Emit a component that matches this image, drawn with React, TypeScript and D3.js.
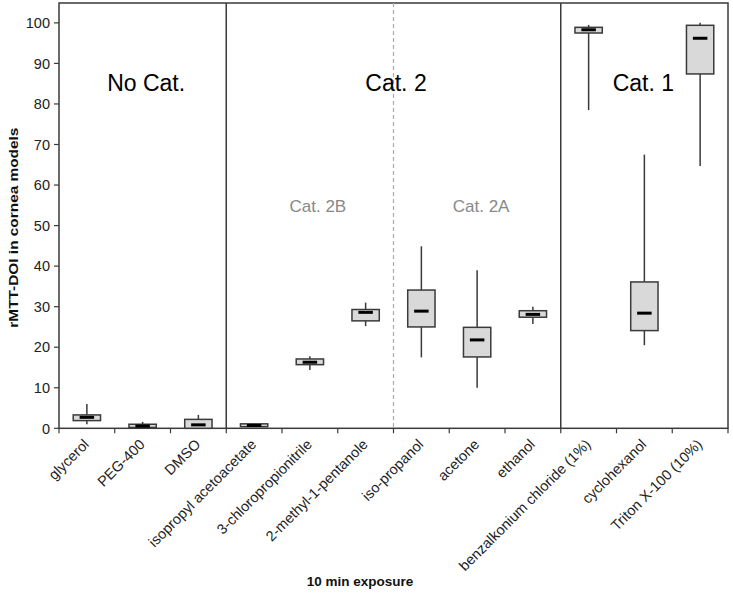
import React from "react";
import * as d3 from "d3";

const categories = [
  "glycerol", "PEG-400", "DMSO", "isopropyl acetoacetate", "3-chloropropionitrile",
  "2-methyl-1-pentanole", "iso-propanol", "acetone", "ethanol",
  "benzalkonium chloride (1%)", "cyclohexanol", "Triton X-100 (10%)",
];
const whiskerLow = [1.0, 0.0, 0.0, 0.3, 14.4, 25.2, 17.5, 10.0, 25.7, 78.5, 20.5, 64.7];
const q1 = [1.9, 0.2, 0.0, 0.4, 15.7, 26.5, 25.0, 17.6, 27.4, 97.5, 24.1, 87.4];
const medians = [2.7, 0.55, 0.85, 0.7, 16.3, 28.6, 28.9, 21.8, 28.1, 98.3, 28.4, 96.2];
const q3 = [3.3, 1.0, 2.2, 1.1, 17.1, 29.3, 34.1, 24.9, 29.0, 98.9, 36.1, 99.4];
const whiskerHigh = [6.0, 1.6, 3.3, 1.2, 17.8, 31.0, 44.9, 39.0, 30.0, 99.5, 67.5, 100.0];
const yTicks = [0, 10, 20, 30, 40, 50, 60, 70, 80, 90, 100];
const groups = [
  { label: "No Cat.", at: 1.5, shift: 3.5 },
  { label: "Cat. 2", at: 6, shift: 2.5 },
  { label: "Cat. 1", at: 10.5, shift: -1 },
];
const subGroups = [
  { label: "Cat. 2B", at: 4.5, shift: 8 },
  { label: "Cat. 2A", at: 7.5, shift: 4 },
];
const solidDividers = [3, 9];
const dashedDividers = [6];

const W = 733, H = 596;
const left = 59, right = 728, top = 3, bottom = 428.3;
const font = "Liberation Sans, Arial, sans-serif";

export default function App() {
  const x = d3.scaleLinear().domain([0, categories.length]).range([left, right]);
  const y = d3.scaleLinear().domain([0, 104.9]).range([bottom, top]);
  const bw = x(1) - x(0);
  const boxW = bw * 0.49;
  const medW = bw * 0.26;
  const stroke = "#3a3a3a";

  return (
    <svg width={W} height={H} style={{ position: "absolute", left: 0, top: 0, background: "#fff" }}>
      <rect x={left} y={top} width={right - left} height={bottom - top} fill="none" stroke={stroke} strokeWidth={1.5} />
      {solidDividers.map((d) => (
        <line key={"s" + d} x1={x(d)} x2={x(d)} y1={top} y2={bottom} stroke={stroke} strokeWidth={1.5} />
      ))}
      {dashedDividers.map((d) => (
        <line key={"d" + d} x1={x(d)} x2={x(d)} y1={top} y2={bottom} stroke="#aaa" strokeWidth={1.2} strokeDasharray="4,3" />
      ))}
      {yTicks.map((t) => (
        <g key={t}>
          <line x1={left - 5} x2={left} y1={y(t)} y2={y(t)} stroke={stroke} strokeWidth={1.2} />
          <text x={left - 9} y={y(t)} dy="0.36em" textAnchor="end" fontFamily={font} fontSize={14.5} fill="#222">{t}</text>
        </g>
      ))}
      {d3.range(0, categories.length + 1).map((i) => (
        <line key={i} x1={x(i)} x2={x(i)} y1={bottom} y2={bottom + 5} stroke={stroke} strokeWidth={1.2} />
      ))}
      {categories.map((c, i) => {
        const cx = x(i + 0.5);
        return (
          <g key={c}>
            <line x1={cx} x2={cx} y1={y(whiskerHigh[i])} y2={y(q3[i])} stroke={stroke} strokeWidth={1.5} />
            <line x1={cx} x2={cx} y1={y(q1[i])} y2={y(whiskerLow[i])} stroke={stroke} strokeWidth={1.5} />
            <rect x={cx - boxW / 2} y={y(q3[i])} width={boxW} height={Math.max(y(q1[i]) - y(q3[i]), 1)} fill="#d9d9d9" stroke={stroke} strokeWidth={1.5} />
            <line x1={cx - medW / 2} x2={cx + medW / 2} y1={y(medians[i])} y2={y(medians[i])} stroke="#000" strokeWidth={3} />
          </g>
        );
      })}
      {groups.map((g) => (
        <text key={g.label} x={x(g.at) + g.shift} y={91} textAnchor="middle" fontFamily={font} fontSize={23} fill="#000">{g.label}</text>
      ))}
      {subGroups.map((g) => (
        <text key={g.label} x={x(g.at) + g.shift} y={212} textAnchor="middle" fontFamily={font} fontSize={17} fill="#888">{g.label}</text>
      ))}
      {categories.map((c, i) => {
        const cx = x(i + 0.5);
        return (
          <text key={c} transform={`translate(${cx + 3},${bottom + 17}) rotate(-45)`} textAnchor="end" fontFamily={font} fontSize={14.5} fill="#222">{c}</text>
        );
      })}
      <text x={360} y={586} textAnchor="middle" fontFamily={font} fontSize={13.5} fontWeight="bold" fill="#111">10 min exposure</text>
      <text transform={`translate(18,${(top + bottom) / 2 + 12}) rotate(-90)`} textAnchor="middle" fontFamily={font} fontSize={13} fontWeight="bold" fill="#111" textLength={200} lengthAdjust="spacingAndGlyphs">rMTT-DOI in cornea models</text>
    </svg>
  );
}
